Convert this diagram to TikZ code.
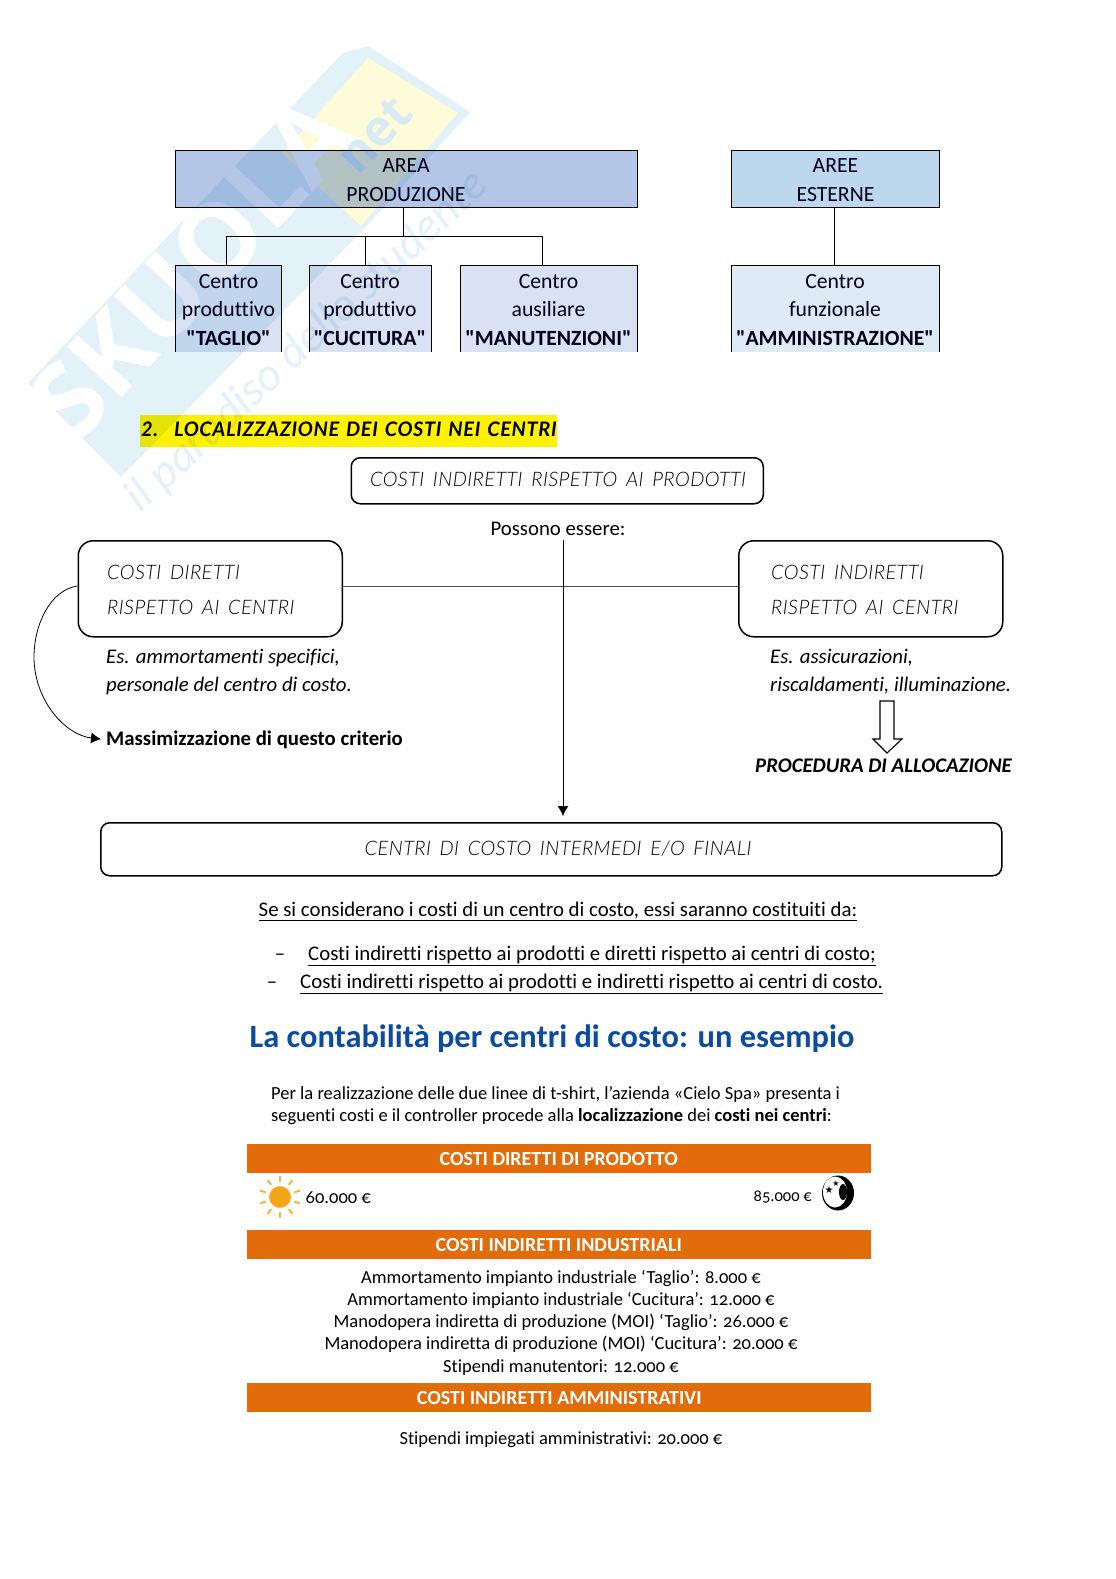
\documentclass[tikz,border=0pt]{standalone}
\usepackage{fontspec}
\setmainfont{Carlito}[Ligatures={TeXOff,NoCommon}]
\newfontfamily\handf{Lato}[UprightFont=* Light Italic,LetterSpace=2,WordSpace=1.6]
\newfontfamily\handb{Lato}[UprightFont=* Bold Italic,LetterSpace=3,WordSpace=1.4]
\newfontfamily\cand{Carlito}[Numbers=OldStyle,Ligatures={TeXOff,NoCommon}]
\newfontfamily\wmf{Open Sans}[UprightFont=* Bold]
\newfontfamily\symf{DejaVu Sans}
\usetikzlibrary{arrows.meta,calc}
\definecolor{areap}{HTML}{B4C6E7}
\definecolor{areae}{HTML}{BDD7EE}
\definecolor{cenp}{HTML}{D9E2F3}
\definecolor{cene}{HTML}{DEEAF6}
\definecolor{orng}{HTML}{E36C0A}
\definecolor{ttl}{HTML}{0B4CA3}
\definecolor{wmb}{HTML}{E3F1F8}
\definecolor{wmy}{HTML}{FDFBD8}
\definecolor{wmt}{HTML}{D8EBF5}
\definecolor{sunr}{HTML}{F3B63C}
\definecolor{sunc}{HTML}{F2A516}
\tikzset{
 orgbox/.style={anchor=north west,inner sep=0pt},
 orgtx/.style={inner sep=0pt,align=center,text=black!90!blue,font=\fontsize{21.7}{28.7}\selectfont},
 topbox/.style={orgbox,draw=black,line width=0.9pt},
 orgline/.style={draw=black,line width=0.8pt},
 rbox/.style={anchor=north west,draw=black,line width=1.5pt,rounded corners=9pt,inner sep=0pt},
 hand/.style={inner sep=0pt,yshift=-4pt,font=\handf\fontsize{20}{20}\selectfont},
 body/.style={inner sep=0pt,yshift=-4pt,font=\fontsize{20.8}{20.8}\selectfont},
 cnd/.style={inner sep=0pt,yshift=-4pt,font=\cand\fontsize{18.5}{18.5}\selectfont},
 bar/.style={anchor=north west,fill=orng,inner sep=0pt,text=white,font=\bfseries\fontsize{20}{20}\selectfont},
 thinarrow/.style={draw=black,line width=0.8pt,-{Latex[length=10pt,width=11pt]}},
}
\begin{document}
\begin{tikzpicture}[x=1pt,y=-1pt]
\path[use as bounding box,fill=white] (0,0) rectangle (1116,1579);
% watermark
\fill[wmb] (28,383) -- (343,53) -- (368,46) -- (470,112) -- (361,232) -- (121,477) -- cycle;
\fill[wmy] (282,153) -- (368,58) -- (458,113) -- (361,226) -- cycle;
\node[rotate=47,text=white,inner sep=0pt,font=\wmf\fontsize{104}{104}\selectfont] (wm1) at (192,268) {SKUOLA};
\node[rotate=47,text=wmt,inner sep=0pt,font=\wmf\fontsize{50}{50}\selectfont] (wm2) at (375,135) {net};
\node[rotate=43,text=wmb,inner sep=0pt,font=\itshape\fontsize{47}{47}\selectfont] (wm3) at (307,342) {il paradiso dello studente};
\begin{scope}[blend mode=multiply]
% organisation chart
\node[topbox,fill=areap,minimum width=461.5pt,minimum height=57pt] (ap) at (175,150) {};
\node[topbox,fill=areae,minimum width=208pt,minimum height=57pt] (ae) at (731,150) {};
\node[orgbox,fill=cenp,minimum width=105.5pt,minimum height=87pt] (tg) at (175,265) {};
\node[orgbox,fill=cenp,minimum width=122pt,minimum height=87pt] (cu) at (309,265) {};
\node[orgbox,fill=cenp,minimum width=176.5pt,minimum height=87pt] (ma) at (460,265) {};
\node[orgbox,fill=cene,minimum width=208pt,minimum height=87pt] (am) at (731,265) {};
\node[anchor=north west,fill=yellow,minimum width=417pt,minimum height=32pt,inner sep=0pt] (hl) at (140,415) {};
\end{scope}
\node[orgtx] (apt) at (406,180) {AREA\\PRODUZIONE};
\node[orgtx] (aet) at (835.5,180) {AREE\\ESTERNE};
\node[orgtx] (tgt) at (228.5,310) {Centro\\produttivo\\\textbf{"TAGLIO"}};
\node[orgtx] (cut) at (370,310) {Centro\\produttivo\\\textbf{"CUCITURA"}};
\node[orgtx] (mat) at (548.5,310) {Centro\\ausiliare\\\textbf{"MANUTENZIONI"}};
\node[orgtx] (amt) at (835,310) {Centro\\funzionale\\\textbf{"AMMINISTRAZIONE"}};
\foreach \n in {tg,cu,ma,am}{\draw[orgline] (\n.south west) -- (\n.north west) -- (\n.north east) -- (\n.south east);}
\coordinate (jm) at (403.5,236);
\coordinate (jt) at (226,236);
\coordinate (jc) at (365,236);
\coordinate (jr) at (542,236);
\coordinate (je) at (834,236);
\draw[orgline] (jm |- ap.south) -- (jm);
\draw[orgline] (jt |- tg.north) -- (jt) -- (jr) -- (jr |- ma.north);
\draw[orgline] (jc) -- (jc |- cu.north);
\draw[orgline] (je |- ae.south) -- (je |- am.north);
% section heading
\node[inner sep=0pt,anchor=mid west,yshift=-5pt,font=\handb\fontsize{20}{20}\selectfont] (h2) at (141,429) {2.\hspace{16pt}LOCALIZZAZIONE DEI COSTI NEI CENTRI};
% rounded boxes
\node[rbox,minimum width=412pt,minimum height=46pt] (ci) at (350.5,457) {};
\node[hand,anchor=mid] (citx) at (558,480) {COSTI INDIRETTI RISPETTO AI PRODOTTI};
\node[body,anchor=mid] (pos) at (558,529) {Possono essere:};
\node[rbox,rounded corners=15pt,minimum width=264pt,minimum height=96pt] (cd) at (77.5,540) {};
\node[rbox,rounded corners=15pt,minimum width=264pt,minimum height=96pt] (cr) at (738,540) {};
\node[hand,anchor=mid west] (cd1) at (107,573) {COSTI DIRETTI};
\node[hand,anchor=mid west] (cd2) at (107,608) {RISPETTO AI CENTRI};
\node[hand,anchor=mid west] (cr1) at (771,573) {COSTI INDIRETTI};
\node[hand,anchor=mid west] (cr2) at (771,608) {RISPETTO AI CENTRI};
\node[rbox,minimum width=901pt,minimum height=53pt] (big) at (100,822) {};
\node[hand,anchor=mid] (bigtx) at (558,849) {CENTRI DI COSTO INTERMEDI E/O FINALI};
\coordinate (hy) at (400,586);
\draw[draw=black!70,line width=1pt] (hy -| cd.east) -- (hy -| cr.west);
\coordinate (vt) at (563,540);
\draw[thinarrow,shorten >=6pt] (vt) -- (vt |- big.north);
% italic notes
\node[body,anchor=mid west] (n1) at (106,657) {\itshape Es. ammortamenti specifici,};
\node[body,anchor=mid west] (n2) at (106,685) {\itshape personale del centro di costo.};
\node[body,anchor=mid west] (n3) at (770,657) {\itshape Es. assicurazioni,};
\node[body,anchor=mid west] (n4) at (770,685) {\itshape riscaldamenti, illuminazione.};
\node[body,anchor=mid west] (mx) at (106,739) {\bfseries Massimizzazione di questo criterio};
\node[body,anchor=mid west] (pr) at (755,766) {\bfseries\itshape PROCEDURA DI ALLOCAZIONE};
\draw[thinarrow,shorten >=5pt] (cd.west |- hy) .. controls (50,590) and (34,625) .. (34,657) .. controls (34,700) and (65,735) .. (mx.west);
\draw[line width=1.1pt,fill=white] (880,701) -- (894,701) -- (894,739) -- (902,739) -- (887,753) -- (873,739) -- (880,739) -- cycle;
% underlined lines
\node[body,anchor=mid] (u0) at (558,910) {\underline{Se si considerano i costi di un centro di costo, essi saranno costituiti da:}};
\node[body,anchor=mid] (d1) at (280,954) {–};
\node[body,anchor=mid west] (u1) at (308,954) {\underline{Costi indiretti rispetto ai prodotti e diretti rispetto ai centri di costo;}};
\node[body,anchor=mid] (d2) at (272,982) {–};
\node[body,anchor=mid west] (u2) at (300,982) {\underline{Costi indiretti rispetto ai prodotti e indiretti rispetto ai centri di costo.}};
% example
\node[inner sep=0pt,anchor=mid,yshift=-8pt,text=ttl,font=\bfseries\fontsize{32.4}{32.4}\selectfont] (tt) at (552,1037) {La contabilità per centri di costo: un esempio};
\node[cnd,anchor=mid west] (p1) at (271,1093) {Per la realizzazione delle due linee di t-shirt, l’azienda «Cielo Spa» presenta i};
\node[cnd,anchor=mid west] (p2) at (271,1115) {seguenti costi e il controller procede alla \textbf{localizzazione} dei \textbf{costi nei centri}:};
\node[bar,minimum width=624pt,minimum height=29pt] (b1) at (246.5,1144) {COSTI DIRETTI DI PRODOTTO};
\node[cnd,anchor=mid west] (v1) at (305.5,1197) {60.000 €};
\node[cnd,anchor=mid east,font=\cand\fontsize{16.5}{16.5}\selectfont] (v2) at (812,1195) {85.000 €};
\node[bar,minimum width=624pt,minimum height=29pt] (b2) at (246.5,1230) {COSTI INDIRETTI INDUSTRIALI};
\node[cnd,anchor=mid] (l1) at (561,1277) {Ammortamento impianto industriale ‘Taglio’: 8.000 €};
\node[cnd,anchor=mid] (l2) at (561,1299) {Ammortamento impianto industriale ‘Cucitura’: 12.000 €};
\node[cnd,anchor=mid] (l3) at (561,1321) {Manodopera indiretta di produzione (MOI) ‘Taglio’: 26.000 €};
\node[cnd,anchor=mid] (l4) at (561,1343) {Manodopera indiretta di produzione (MOI) ‘Cucitura’: 20.000 €};
\node[cnd,anchor=mid] (l5) at (561,1366) {Stipendi manutentori: 12.000 €};
\node[bar,minimum width=624pt,minimum height=29pt] (b3) at (247,1383) {COSTI INDIRETTI AMMINISTRATIVI};
\node[cnd,anchor=mid] (l6) at (561,1438) {Stipendi impiegati amministrativi: 20.000 €};
% sun
\foreach \a in {18,54,...,342}{\draw[line width=2pt,color=sunr,shift={(280,1197)}] (\a:15) -- (\a:21);}
\fill[draw=sunr,fill=sunc,line width=1pt] (280,1197) circle (10.5);
% moon
\fill[black] (838,1193) ellipse (16 and 17.5);
\fill[white] (835,1192) ellipse (12 and 15.5);
\fill[black] (843,1192) ellipse (4 and 8);
\node[inner sep=0pt,anchor=mid,font=\symf\fontsize{10}{10}\selectfont] (st1) at (829,1191) {★};
\node[inner sep=0pt,anchor=mid,font=\symf\fontsize{8}{8}\selectfont] (st2) at (836,1184) {★};
\end{tikzpicture}
\end{document}
